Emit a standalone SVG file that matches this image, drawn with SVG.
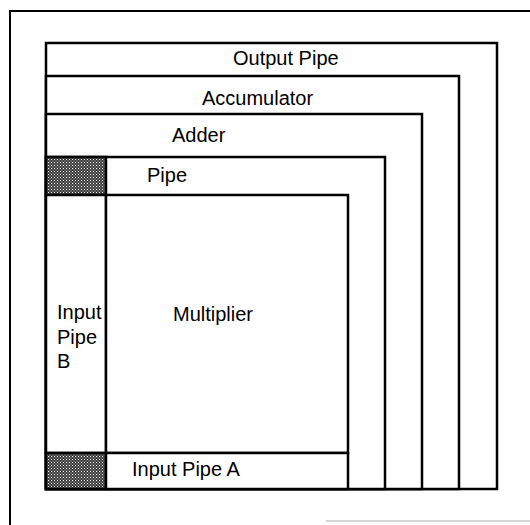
<svg xmlns="http://www.w3.org/2000/svg" width="530" height="525" viewBox="0 0 530 525">
  <defs>
    <pattern id="dither" width="3" height="3" patternUnits="userSpaceOnUse">
      <rect width="3" height="3" fill="#3a3a3a"/>
      <rect x="0" y="0" width="1" height="1" fill="#ffffff"/>
      <rect x="1.5" y="1.5" width="1" height="1" fill="#d0d0d0"/>
    </pattern>
  </defs>
  <style>
    .box { fill: #ffffff; stroke: #000000; stroke-width: 2.5; }
    .shade { fill: url(#dither); stroke: #000000; stroke-width: 2.5; }
    .lbl { font-family: "Liberation Sans", Arial, sans-serif; font-size: 20px; fill: #000000; }
    .frame { fill: none; stroke: #000000; stroke-width: 2; }
  </style>
  <rect width="530" height="525" fill="#ffffff"/>
  <g id="frame">
    <polyline class="frame" points="10,525 10,11 530,11"/>
    <line x1="326" y1="521" x2="530" y2="521" stroke="#c8c8c8" stroke-width="1.5"/>
  </g>
  <g id="output-pipe">
    <rect class="box" x="46" y="43" width="451" height="446"/>
    <text class="lbl" x="233" y="65">Output Pipe</text>
  </g>
  <g id="accumulator">
    <rect class="box" x="46" y="76" width="413" height="413"/>
    <text class="lbl" x="202" y="105">Accumulator</text>
  </g>
  <g id="adder">
    <rect class="box" x="46" y="114" width="376" height="375"/>
    <text class="lbl" x="172" y="142">Adder</text>
  </g>
  <g id="pipe">
    <rect class="box" x="46" y="157" width="339" height="332"/>
    <rect class="shade" x="46" y="157" width="60" height="38"/>
    <text class="lbl" x="147" y="182">Pipe</text>
  </g>
  <g id="input-pipe-b">
    <rect class="box" x="46" y="195" width="60" height="258"/>
    <text class="lbl" x="57" y="319">Input</text>
    <text class="lbl" x="57" y="344">Pipe</text>
    <text class="lbl" x="57" y="368">B</text>
  </g>
  <g id="multiplier">
    <rect class="box" x="106" y="195" width="242" height="258"/>
    <text class="lbl" x="173" y="321">Multiplier</text>
  </g>
  <g id="input-pipe-a">
    <rect class="shade" x="46" y="453" width="60" height="36"/>
    <rect class="box" x="106" y="453" width="242" height="36"/>
    <text class="lbl" x="132" y="476">Input Pipe A</text>
  </g>
  <g id="connectors"></g>
</svg>
